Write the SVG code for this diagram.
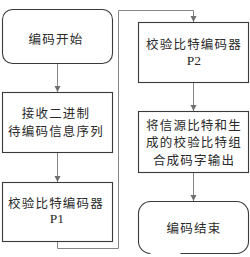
<svg xmlns="http://www.w3.org/2000/svg" width="250" height="257" viewBox="0 0 250 257">
<style>
.node{fill:#ffffff;stroke:#3a3a3a;stroke-width:1.1}
.conn{fill:none;stroke:#858585;stroke-width:1}
.cjk{font-family:"Noto Sans CJK SC","Noto Sans",sans-serif;font-size:12.5px;letter-spacing:1.2px;fill:#2a2a2a;text-anchor:middle}
.lat{font-family:"Liberation Serif",serif;font-size:13.5px;fill:#2a2a2a;text-anchor:middle}
</style>
<defs>
<marker id="arr" markerUnits="userSpaceOnUse" markerWidth="7" markerHeight="7" refX="6" refY="3" orient="auto">
<path d="M0,0 L6,3 L0,6 z" fill="#707070"/>
</marker>
</defs>
<rect width="250" height="257" fill="#ffffff"/>
<g id="connectors">
<path class="conn" d="M57.5,63.5 V92" marker-end="url(#arr)"/>
<path class="conn" d="M57.5,152.5 V182" marker-end="url(#arr)"/>
<path class="conn" d="M57.5,241.5 V248.5 H118.5 V10.5 H193.5 V22" marker-end="url(#arr)"/>
<path class="conn" d="M193.5,82.5 V111" marker-end="url(#arr)"/>
<path class="conn" d="M193.5,172.5 V201" marker-end="url(#arr)"/>
</g>
<g id="start">
<rect class="node" x="2.5" y="9.5" width="110" height="54" rx="10" ry="10"/>
<text class="cjk" x="56" y="43.5">编码开始</text>
</g>
<g id="receive">
<rect class="node" x="2.5" y="92.5" width="110" height="60"/>
<text class="cjk" x="56" y="118">接收二进制</text>
<text class="cjk" x="56" y="135.5">待编码信息序列</text>
</g>
<g id="p1">
<rect class="node" x="2.5" y="182.5" width="110" height="59"/>
<text class="cjk" x="56" y="207.5">校验比特编码器</text>
<text class="lat" x="57" y="223">P1</text>
</g>
<g id="p2">
<rect class="node" x="138.5" y="22.5" width="110" height="60"/>
<text class="cjk" x="194" y="48.5">校验比特编码器</text>
<text class="lat" x="194" y="65">P2</text>
</g>
<g id="combine">
<rect class="node" x="138.5" y="111.5" width="110" height="61"/>
<text class="cjk" x="194" y="129.5">将信源比特和生</text>
<text class="cjk" x="194" y="147">成的校验比特组</text>
<text class="cjk" x="194" y="164.5">合成码字输出</text>
</g>
<g id="end">
<path class="node" d="M180.5,253.5 H236.5 A12,12 0 0 0 248.5,241.5 V213.5 A12,12 0 0 0 236.5,201.5 H150.5 A12,12 0 0 0 138.5,213.5 V241.5 A12,12 0 0 0 150.5,253.5"/>
<text class="cjk" x="194" y="232.5">编码结束</text>
</g>
</svg>
